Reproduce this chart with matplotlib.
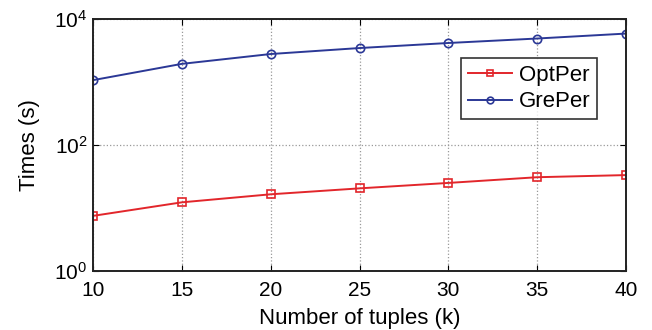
import numpy as np
import matplotlib.pyplot as plt
import matplotlib as mpl
from matplotlib.ticker import NullLocator

mpl.rcParams.update({"font.family": ["Liberation Sans", "DejaVu Sans"],
                     "mathtext.fontset": "custom",
                     "mathtext.rm": "Liberation Sans",
                     "mathtext.it": "Liberation Sans"})

tuples = [10, 15, 20, 25, 30, 35, 40]
opt_per = [7.5, 12.3, 16.5, 20.5, 25, 30.8, 33.3]
gre_per = [1070, 1940, 2780, 3460, 4160, 4900, 5870]

red = '#e2262b'
blue = '#2b3896'

fig = plt.figure(figsize=(6.52, 3.30), dpi=100)
ax = fig.add_axes([93/652, 1 - 271/330, (626-93)/652, (271-19)/330])

ax.plot(tuples, opt_per, color=red, marker='s', markersize=6, markerfacecolor='none',
        markeredgewidth=1.2, linewidth=1.4, label='OptPer')
ax.plot(tuples, gre_per, color=blue, marker='o', markersize=6, markerfacecolor='none',
        markeredgewidth=1.2, linewidth=1.4, label='GrePer')

ax.set_yscale('log')
ax.set_xlim(10, 40)
ax.set_ylim(1, 1e4)
ax.set_xticks(tuples)
ax.set_yticks([1, 1e2, 1e4])
ax.yaxis.set_minor_locator(NullLocator())
ax.grid(True, linestyle=':', color='#999999', linewidth=0.9)
ax.tick_params(direction='in', top=True, right=True, labelsize=15, length=4)
ax.tick_params(axis='x', pad=7)
ax.tick_params(axis='y', pad=4)
for s in ax.spines.values():
    s.set_linewidth(1.4)
    s.set_color('#222222')

ax.set_xlabel('Number of tuples (k)', fontsize=16, labelpad=6)
ax.set_ylabel('Times (s)', fontsize=16, labelpad=10)

leg = ax.legend(loc='upper right', bbox_to_anchor=(0.946, 0.845), fontsize=16,
                frameon=True, fancybox=False, edgecolor='black', handlelength=2.0,
                borderpad=0.3, labelspacing=0.25, handletextpad=0.3,
                borderaxespad=0, markerscale=0.8)
leg.get_frame().set_linewidth(1.2)

fig.savefig('out.png', dpi=100)
